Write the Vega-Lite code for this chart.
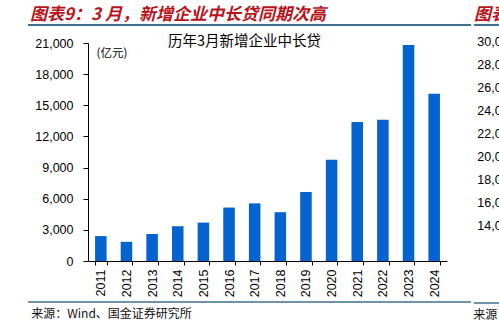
{
  "$schema": "https://vega.github.io/schema/vega-lite/v6.json",
  "padding": {"left": 27, "top": 6, "right": 0, "bottom": 0},
  "background": "white",
  "config": {"view": {"stroke": null}},
  "spacing": 1,
  "hconcat": [
    {
      "columns": 1,
      "spacing": 7,
      "concat": [
        {
          "width": 443,
          "height": 1,
          "data": {"values": [{}]},
          "mark": {"type": "rule", "color": "#3f6f8d", "strokeWidth": 2},
          "encoding": {"y": {"datum": 0, "type": "quantitative", "scale": {"domain": [0, 1]}, "axis": null}},
          "title": {"text": "图表9：3 月，新增企业中长贷同期次高", "anchor": "start", "font": "Noto Sans CJK SC", "fontSize": 17, "fontWeight": "bold", "fontStyle": "italic", "color": "#b8141c", "offset": 0, "dx": 3}
        },
        {
          "columns": 1,
          "spacing": 4,
          "concat": [
            {
              "spacing": 4,
              "hconcat": [
                {
                  "width": 1,
                  "height": 1,
                  "data": {"values": []},
                  "mark": "text",
                  "encoding": {}
                },
                {
                  "width": 359,
                  "height": 218,
                  "data": {"values": [
                    {"year": "2011", "value": 2400},
                    {"year": "2012", "value": 1850},
                    {"year": "2013", "value": 2600},
                    {"year": "2014", "value": 3350},
                    {"year": "2015", "value": 3700},
                    {"year": "2016", "value": 5150},
                    {"year": "2017", "value": 5550},
                    {"year": "2018", "value": 4700},
                    {"year": "2019", "value": 6650},
                    {"year": "2020", "value": 9750},
                    {"year": "2021", "value": 13400},
                    {"year": "2022", "value": 13600},
                    {"year": "2023", "value": 20800},
                    {"year": "2024", "value": 16100}
                  ]},
                  "title": {"text": "历年3月新增企业中长贷", "anchor": "middle", "font": "Noto Sans CJK SC", "fontSize": 14.5, "fontWeight": "normal", "color": "#000000", "dx": -23, "offset": -12},
                  "mark": {"type": "bar", "color": "#0463cf"},
                  "encoding": {
                    "x": {
                      "field": "year", "type": "ordinal",
                      "scale": {"paddingInner": 0.55, "paddingOuter": 0.275},
                      "axis": {"title": null, "labelAngle": -90, "labelFont": "Liberation Sans", "labelFontSize": 12.5, "labelColor": "#000000", "tickColor": "#000000", "domainColor": "#000000", "tickSize": 4, "labelPadding": 4, "tickBand": "extent", "grid": false}
                    },
                    "y": {
                      "field": "value", "type": "quantitative",
                      "scale": {"domain": [0, 21000], "nice": false},
                      "axis": {"values": [0, 3000, 6000, 9000, 12000, 15000, 18000, 21000], "format": ",.0f", "grid": false, "labelFont": "Liberation Sans", "labelFontSize": 12.5, "labelColor": "#000000", "tickColor": "#000000", "domainColor": "#000000", "tickSize": 5, "labelPadding": 10, "minExtent": 55, "maxExtent": 55,
                        "title": "(亿元)", "titleAngle": 0, "titleAlign": "left", "titleBaseline": "middle", "titleX": 8, "titleY": 10, "titleFont": "Noto Sans CJK SC", "titleFontSize": 11.5, "titleFontWeight": "normal", "titleColor": "#000000"}
                    }
                  }
                }
              ]
            },
            {
              "width": 443,
              "height": 1,
              "data": {"values": [{}]},
              "mark": {"type": "rule", "color": "#3f6f8d", "strokeWidth": 1.5},
              "encoding": {"y": {"datum": 1, "type": "quantitative", "scale": {"domain": [0, 1]}, "axis": null}},
              "title": {"text": "来源：Wind、国金证券研究所", "orient": "bottom", "anchor": "start", "font": "Noto Sans CJK SC", "fontSize": 12, "fontWeight": "normal", "color": "#111111", "offset": 6, "dx": 4}
            }
          ]
        }
      ]
    },
    {
      "columns": 1,
      "spacing": 9,
      "concat": [
        {
          "width": 80,
          "height": 1,
          "data": {"values": [{}]},
          "mark": {"type": "rule", "color": "#3f6f8d", "strokeWidth": 2},
          "encoding": {"y": {"datum": 0, "type": "quantitative", "scale": {"domain": [0, 1]}, "axis": null}},
          "title": {"text": "图表10", "anchor": "start", "font": "Noto Sans CJK SC", "fontSize": 17, "fontWeight": "bold", "fontStyle": "italic", "color": "#b8141c", "offset": 0, "dx": 1}
        },
        {
          "columns": 1,
          "spacing": 70,
          "concat": [
            {
              "spacing": 0,
              "hconcat": [
                {
                  "width": 1,
                  "height": 1,
                  "data": {"values": []},
                  "mark": "text",
                  "encoding": {}
                },
                {
                  "width": 60,
                  "height": 184,
                  "data": {"values": []},
                  "mark": {"type": "bar", "color": "#0463cf"},
                  "encoding": {
                    "y": {
                      "field": "value", "type": "quantitative",
                      "scale": {"domain": [14000, 30000], "nice": false},
                      "axis": {"values": [14000, 16000, 18000, 20000, 22000, 24000, 26000, 28000, 30000], "format": ",.0f", "grid": false, "title": null, "labelFont": "Liberation Sans", "labelFontSize": 12.5, "labelColor": "#000000", "tickColor": "#000000", "domainColor": "#000000", "tickSize": 5, "labelPadding": 10, "minExtent": 55, "maxExtent": 55}
                    }
                  }
                }
              ]
            },
            {
              "width": 80,
              "height": 1,
              "data": {"values": [{}]},
              "mark": {"type": "rule", "color": "#3f6f8d", "strokeWidth": 1.5},
              "encoding": {"y": {"datum": 1, "type": "quantitative", "scale": {"domain": [0, 1]}, "axis": null}},
              "title": {"text": "来源：Wind、国金证券研究所", "orient": "bottom", "anchor": "start", "font": "Noto Sans CJK SC", "fontSize": 12, "fontWeight": "normal", "color": "#111111", "offset": 6, "dx": 0}
            }
          ]
        }
      ]
    }
  ]
}
